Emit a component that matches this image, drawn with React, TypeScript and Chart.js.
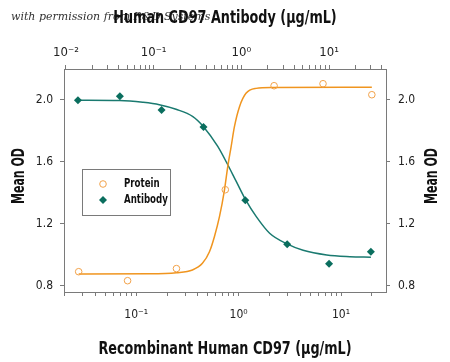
import React, { useEffect, useRef } from 'react';
import { Chart, registerables } from 'chart.js';

Chart.register(...registerables);

// ---- data ----
const proteinConc = [0.0274, 0.0823, 0.247, 0.741, 2.22, 6.67, 20];
const proteinOD = [0.892, 0.834, 0.912, 1.421, 2.092, 2.105, 2.034];

const antibodyConc = [0.0137, 0.0412, 0.123, 0.37, 1.11, 3.33, 10, 30];
const antibodyOD = [1.998, 2.024, 1.935, 1.826, 1.353, 1.069, 0.944, 1.021];

// fitted curves
const proteinFitConc = [0.0274, 0.135, 0.247, 0.354, 0.443, 0.519, 0.58, 0.65, 0.727, 0.783, 0.845, 0.91, 1.02, 1.18, 1.48, 2.14, 20];
const proteinFitOD = [0.877, 0.878, 0.885, 0.903, 0.946, 1.021, 1.118, 1.247, 1.419, 1.57, 1.699, 1.828, 1.957, 2.043, 2.075, 2.081, 2.083];

const antibodyFitConc = [0.0137, 0.041, 0.075, 0.116, 0.18, 0.28, 0.37, 0.536, 0.674, 0.877, 1.12, 1.48, 2.1, 3.36, 5.06, 9.4, 17.3, 30];
const antibodyFitOD = [1.998, 1.996, 1.985, 1.97, 1.94, 1.893, 1.828, 1.702, 1.6, 1.473, 1.355, 1.247, 1.14, 1.07, 1.03, 1.0, 0.989, 0.985];

// ticks
const yTickValues = [0.8, 1.2, 1.6, 2.0];
const bottomDecades = [0.1, 1, 10];
const bottomDecadeLabels = ['10\u207B\u00B9', '10\u2070', '10\u00B9'];
const topDecades = [0.01, 0.1, 1, 10];
const topDecadeLabels = ['10\u207B\u00B2', '10\u207B\u00B9', '10\u2070', '10\u00B9'];

const topTitle = 'Human CD97 Antibody (\u03BCg/mL)';
const bottomTitle = 'Recombinant Human CD97 (\u03BCg/mL)';
const yTitle = 'Mean OD';
const watermark = 'with permission from R&D Systems';
const legendLabels = ['Protein', 'Antibody'];

const ORANGE_PT = '#F2A24A';
const ORANGE_LINE = '#F0951F';
const TEAL_PT = '#0A6E5E';
const TEAL_LINE = '#1A7A70';
const AXIS = '#7a7a7a';
const FONT = '"Liberation Sans Narrow", "DejaVu Sans Condensed", "Liberation Sans", sans-serif';

function logTicks(min: number, max: number) {
  const out: number[] = [];
  for (let e = -3; e <= 2; e++) {
    for (let m = 1; m <= 9; m++) {
      const v = m * Math.pow(10, e);
      if (v >= min * 0.999 && v <= max * 1.001) out.push(+v.toPrecision(3));
    }
  }
  return out;
}

function labelFor(v: number, decades: number[], labels: string[]) {
  const i = decades.findIndex((d) => Math.abs(d - v) / d < 1e-6);
  return i >= 0 ? labels[i] : '';
}

function scaledText(ctx: CanvasRenderingContext2D, text: string, x: number, y: number, sx: number, rot = 0) {
  ctx.save();
  ctx.translate(x, y);
  if (rot) ctx.rotate(rot);
  ctx.scale(sx, 1);
  ctx.fillText(text, 0, 0);
  ctx.restore();
}

const X_MIN = 0.0197, X_MAX = 27.5;
const X2_MIN = 0.0095, X2_MAX = 44.6;
const Y_MIN = 0.761, Y_MAX = 2.2;

const overlay = {
  id: 'overlay',
  afterDraw(chart: any) {
    const ctx = chart.ctx as CanvasRenderingContext2D;
    const { left, right } = chart.chartArea;
    const cx = (left + right) / 2;
    ctx.save();
    // watermark
    ctx.fillStyle = '#333';
    ctx.font = 'italic 11px "DejaVu Serif", serif';
    ctx.textAlign = 'left';
    ctx.textBaseline = 'middle';
    ctx.fillText(watermark, 11, 17);
    // titles
    ctx.fillStyle = '#111';
    ctx.font = 'bold 18px ' + FONT;
    ctx.textAlign = 'center';
    scaledText(ctx, topTitle, cx, 18, 0.79);
    scaledText(ctx, bottomTitle, cx, 349, 0.79);
    scaledText(ctx, yTitle, 19, 176, 0.68, -Math.PI / 2);
    scaledText(ctx, yTitle, 432, 176, 0.68, -Math.PI / 2);
    // legend
    ctx.strokeStyle = AXIS;
    ctx.lineWidth = 1;
    ctx.strokeRect(82.5, 169.5, 88, 46);
    ctx.beginPath();
    ctx.arc(103, 184, 3.3, 0, Math.PI * 2);
    ctx.strokeStyle = ORANGE_PT;
    ctx.stroke();
    ctx.beginPath();
    ctx.moveTo(103, 196);
    ctx.lineTo(107, 200);
    ctx.lineTo(103, 204);
    ctx.lineTo(99, 200);
    ctx.closePath();
    ctx.fillStyle = TEAL_PT;
    ctx.fill();
    ctx.fillStyle = '#111';
    ctx.font = 'bold 12px ' + FONT;
    ctx.textAlign = 'left';
    scaledText(ctx, legendLabels[0], 124, 184, 0.8);
    scaledText(ctx, legendLabels[1], 124, 200, 0.8);
    ctx.restore();
  },
};

export default function App() {
  const ref = useRef<HTMLCanvasElement | null>(null);
  useEffect(() => {
    if (!ref.current) return;
    const tickFont = { family: FONT, size: 12 };
    const grid = { drawOnChartArea: false, drawTicks: true, tickLength: 4, color: AXIS, lineWidth: 1 };
    const border = { display: true, color: AXIS, width: 1 };
    const chart = new Chart(ref.current, {
      type: 'scatter',
      data: {
        datasets: [
          {
            label: legendLabels[0],
            data: proteinConc.map((x, i) => ({ x, y: proteinOD[i] })),
            xAxisID: 'x',
            yAxisID: 'y',
            pointStyle: 'circle',
            pointRadius: 3.3,
            borderWidth: 1,
            borderColor: ORANGE_PT,
            backgroundColor: 'rgba(255,255,255,0)',
          },
          {
            label: legendLabels[1],
            data: antibodyConc.map((x, i) => ({ x, y: antibodyOD[i] })),
            xAxisID: 'x2',
            yAxisID: 'y',
            pointStyle: 'rectRot',
            pointRadius: 4,
            borderWidth: 0,
            borderColor: TEAL_PT,
            backgroundColor: TEAL_PT,
          },
          {
            label: 'Protein fit',
            data: proteinFitConc.map((x, i) => ({ x, y: proteinFitOD[i] })),
            xAxisID: 'x',
            yAxisID: 'y',
            showLine: true,
            pointRadius: 0,
            borderColor: ORANGE_LINE,
            borderWidth: 1.5,
            cubicInterpolationMode: 'monotone',
          },
          {
            label: 'Antibody fit',
            data: antibodyFitConc.map((x, i) => ({ x, y: antibodyFitOD[i] })),
            xAxisID: 'x2',
            yAxisID: 'y',
            showLine: true,
            pointRadius: 0,
            borderColor: TEAL_LINE,
            borderWidth: 1.5,
            cubicInterpolationMode: 'monotone',
          },
        ] as any,
      },
      options: {
        animation: false,
        responsive: true,
        maintainAspectRatio: false,
        layout: { padding: 0 },
        plugins: { legend: { display: false }, tooltip: { enabled: false } },
        scales: {
          x: {
            type: 'logarithmic',
            position: 'bottom',
            min: X_MIN,
            max: X_MAX,
            grid,
            border,
            afterBuildTicks: (s: any) => { s.ticks = logTicks(X_MIN, X_MAX).map((value) => ({ value })); },
            afterFit: (s: any) => { s.height = 70; },
            ticks: {
              autoSkip: false,
              maxRotation: 0,
              padding: 12,
              color: '#222',
              font: tickFont,
              callback: (v: any) => labelFor(Number(v), bottomDecades, bottomDecadeLabels),
            },
          },
          x2: {
            type: 'logarithmic',
            position: 'top',
            min: X2_MIN,
            max: X2_MAX,
            grid,
            border,
            afterBuildTicks: (s: any) => { s.ticks = logTicks(X2_MIN, X2_MAX).map((value) => ({ value })); },
            afterFit: (s: any) => { s.height = 69; },
            ticks: {
              autoSkip: false,
              maxRotation: 0,
              padding: 5,
              color: '#222',
              font: { family: FONT, size: 13 },
              callback: (v: any) => labelFor(Number(v), topDecades, topDecadeLabels),
            },
          },
          y: {
            type: 'linear',
            position: 'left',
            min: Y_MIN,
            max: Y_MAX,
            grid,
            border,
            afterBuildTicks: (s: any) => { s.ticks = yTickValues.map((value) => ({ value })); },
            afterFit: (s: any) => { s.width = 64; },
            ticks: { padding: 7, color: '#222', font: tickFont, callback: (v: any) => Number(v).toFixed(1) },
          },
          y2: {
            type: 'linear',
            position: 'right',
            min: Y_MIN,
            max: Y_MAX,
            grid,
            border,
            afterBuildTicks: (s: any) => { s.ticks = yTickValues.map((value) => ({ value })); },
            afterFit: (s: any) => { s.width = 64; },
            ticks: { padding: 8, color: '#222', font: tickFont, callback: (v: any) => Number(v).toFixed(1) },
          },
        },
      } as any,
      plugins: [overlay],
    });
    return () => chart.destroy();
  }, []);
  return (
    <div style={{ position: 'fixed', left: 0, top: 0, width: 450, height: 362, background: '#fff' }}>
      <canvas ref={ref} />
    </div>
  );
}
